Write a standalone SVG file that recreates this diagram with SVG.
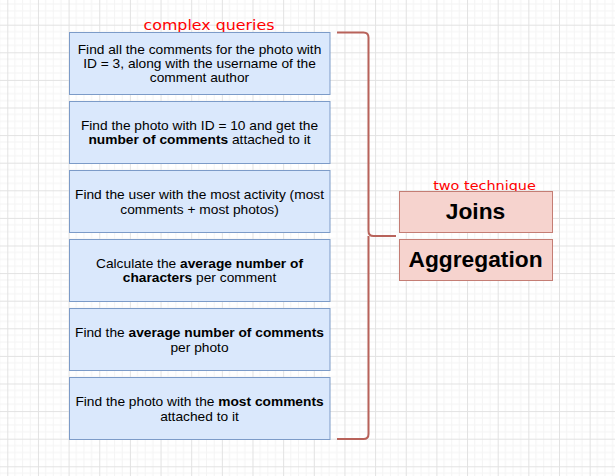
<svg xmlns="http://www.w3.org/2000/svg" width="615" height="476" viewBox="0 0 615 476">
<defs>
<pattern id="grid" x="7.3" y="24.7" width="30.65" height="27.6" patternUnits="userSpaceOnUse">
<path d="M7.66 0V27.6M15.33 0V27.6M22.99 0V27.6M0 6.9H30.65M0 13.8H30.65M0 20.7H30.65" stroke="#f4f4f4" stroke-width="1" fill="none"/>
<path d="M0.5 0V27.6M0 0.5H30.65" stroke="#e2e2e2" stroke-width="1" fill="none"/>
</pattern>
<style>
.q rect{fill:#dae8fc;stroke:#7c9bc8;stroke-width:1}
.q text{font-family:"Liberation Sans",Arial,sans-serif;font-size:12.4px;fill:#000;text-anchor:middle}
.t rect{fill:#f6d3ce;stroke:#c47d74;stroke-width:1}
.t text{font-family:"Liberation Sans",Arial,sans-serif;font-size:21.5px;font-weight:bold;fill:#000;text-anchor:middle}
.lbl{font-family:"DejaVu Sans",sans-serif;fill:#ff0000;text-anchor:middle}
.b{font-weight:bold}
</style>
</defs>
<rect width="615" height="476" fill="#ffffff"/>
<rect width="615" height="476" fill="url(#grid)"/>

<g id="label-complex" transform="translate(209,0) scale(1.11,1)"><text class="lbl" x="0" y="30" font-size="14.3">complex queries</text></g>
<g id="label-two" transform="translate(484.5,0) scale(1.11,1)"><text class="lbl" x="0" y="190.5" font-size="13">two technique</text></g>

<g id="q1" class="q"><rect x="69.5" y="32.5" width="260.5" height="62"/>
<g transform="translate(199.5,0) scale(1.11,1)"><text x="0" y="54">Find all the comments for the photo with</text><text x="0" y="68.3">ID = 3, along with the username of the</text><text x="0" y="82.5">comment author</text></g></g>

<g id="q2" class="q"><rect x="69.5" y="101.5" width="260.5" height="62"/>
<g transform="translate(199.5,0) scale(1.11,1)"><text x="0" y="130">Find the photo with ID = 10 and get the</text><text x="0" y="144.3"><tspan class="b">number of comments</tspan> attached to it</text></g></g>

<g id="q3" class="q"><rect x="69.5" y="170.5" width="260.5" height="62"/>
<g transform="translate(199.5,0) scale(1.11,1)"><text x="0" y="199.3">Find the user with the most activity (most</text><text x="0" y="213.7">comments + most photos)</text></g></g>

<g id="q4" class="q"><rect x="69.5" y="239.5" width="260.5" height="62"/>
<g transform="translate(199.5,0) scale(1.11,1)"><text x="0" y="267.7">Calculate the <tspan class="b">average number of</tspan></text><text x="0" y="282.3"><tspan class="b">characters</tspan> per comment</text></g></g>

<g id="q5" class="q"><rect x="69.5" y="308.5" width="260.5" height="62"/>
<g transform="translate(199.5,0) scale(1.11,1)"><text x="0" y="337.3">Find the <tspan class="b">average number of comments</tspan></text><text x="0" y="351.7">per photo</text></g></g>

<g id="q6" class="q"><rect x="69.5" y="377.5" width="260.5" height="62"/>
<g transform="translate(199.5,0) scale(1.11,1)"><text x="0" y="406">Find the photo with the <tspan class="b">most comments</tspan></text><text x="0" y="420.7">attached to it</text></g></g>

<g id="joins" class="t"><rect x="399.5" y="191.5" width="153" height="41"/>
<g transform="translate(475.5,0) scale(1.06,1)"><text x="0" y="219">Joins</text></g></g>

<g id="aggregation" class="t"><rect x="399.5" y="239.5" width="153" height="41"/>
<g transform="translate(475.5,0) scale(1.06,1)"><text x="0" y="267.3">Aggregation</text></g></g>

<g id="connectors">
<path d="M337 32.5H363.5Q368.5 32.5 368.5 37.5V231Q368.5 236 373.5 236H396M368.5 236V434Q368.5 439 363.5 439H337" fill="none" stroke="#b8625a" stroke-width="2" stroke-linejoin="round"/>
</g>
</svg>
